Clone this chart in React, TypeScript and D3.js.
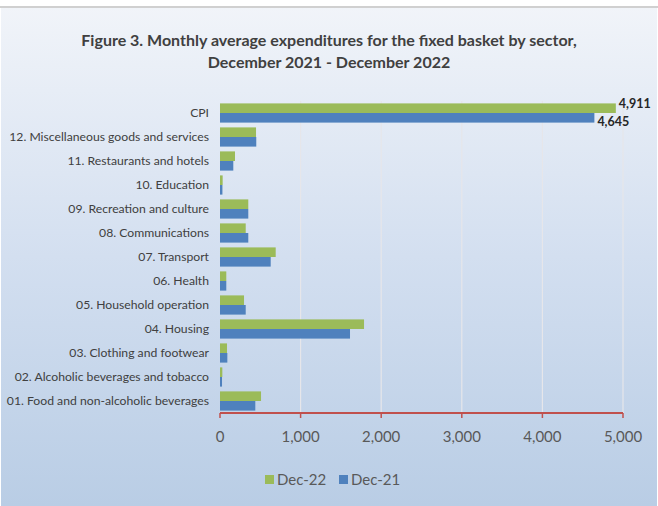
import React from "react";
import * as d3 from "d3";

const categories = [
  "CPI",
  "12. Miscellaneous goods and services",
  "11. Restaurants and hotels",
  "10. Education",
  "09. Recreation and culture",
  "08. Communications",
  "07. Transport",
  "06. Health",
  "05. Household operation",
  "04. Housing",
  "03. Clothing and footwear",
  "02. Alcoholic beverages and tobacco",
  "01. Food and non-alcoholic beverages",
];
const dec22 = [4911, 447, 186, 33, 351, 319, 691, 78, 298, 1787, 87, 29, 509];
const dec21 = [4645, 450, 165, 30, 351, 351, 629, 78, 319, 1613, 91, 25, 438];
const seriesNames = ["Dec-22", "Dec-21"];
const seriesColors = ["#9bbb59", "#4f81bd"];
const xTicks = [0, 1000, 2000, 3000, 4000, 5000];
const titleLines = [
  "Figure 3. Monthly average expenditures for the fixed basket by sector,",
  "December 2021 - December 2022",
];

const W = 658;
const H = 506;
const FONT = "Lato, 'Open Sans', sans-serif";

export default function App() {
  const x = d3.scaleLinear().domain([0, 5000]).range([220, 623]);
  const y = d3.scaleBand().domain(categories).range([101, 413]).paddingInner(0.2).paddingOuter(0.1);
  const inner = d3.scaleBand().domain(seriesNames).range([0, y.bandwidth()]);
  const fmt = d3.format(",");
  const series = [dec22, dec21];

  return (
    <svg width={W} height={H} style={{ position: "absolute", left: 0, top: 0 }} fontFamily={FONT}>
      <defs>
        <linearGradient id="bg" x1="0" y1="0" x2="0" y2="1">
          <stop offset="0" stopColor="#f1f4f9" />
          <stop offset="0.5" stopColor="#d3dff0" />
          <stop offset="1" stopColor="#b9cde5" />
        </linearGradient>
      </defs>
      <rect x={0} y={0} width={W} height={H} fill="#ffffff" />
      <rect x={1} y={7} width={W - 2} height={H - 7} fill="url(#bg)" />
      <line x1={0} x2={W} y1={7} y2={7} stroke="#d0d0d0" strokeWidth={2} />
      {titleLines.map((t, i) => (
        <text key={i} x={329} y={46 + i * 22} textAnchor="middle" fontSize={16} fontWeight="bold" fill="#404040">
          {t}
        </text>
      ))}
      {xTicks.slice(1).map((t) => (
        <line key={t} x1={x(t)} x2={x(t)} y1={101} y2={413} stroke="#e6e6ea" strokeWidth={1.2} />
      ))}
      {categories.map((c, i) => (
        <g key={c}>
          {series.map((s, j) => (
            <rect
              key={j}
              x={x(0)}
              y={(y(c) as number) + (inner(seriesNames[j]) as number)}
              width={x(s[i]) - x(0)}
              height={inner.bandwidth()}
              fill={seriesColors[j]}
            />
          ))}
          <text x={209} y={(y(c) as number) + y.bandwidth() / 2 + 4} textAnchor="end" fontSize={12.2} fill="#404040">
            {c}
          </text>
        </g>
      ))}
      <text x={x(dec22[0]) + 3} y={(y(categories[0]) as number) + 5} fontSize={12.5} fontWeight="bold" fill="#262626">
        {fmt(dec22[0])}
      </text>
      <text x={x(dec21[0]) + 3} y={(y(categories[0]) as number) + y.bandwidth() + 3} fontSize={12.5} fontWeight="bold" fill="#262626">
        {fmt(dec21[0])}
      </text>
      <line x1={x(0)} x2={x(5000)} y1={413} y2={413} stroke="#c0504d" strokeWidth={2} />
      {xTicks.map((t) => (
        <g key={t}>
          <line x1={x(t)} x2={x(t)} y1={413} y2={418} stroke="#c0504d" strokeWidth={1.5} />
          <text x={x(t)} y={442} textAnchor="middle" fontSize={15} fill="#595959">
            {fmt(t)}
          </text>
        </g>
      ))}
      {seriesNames.map((n, i) => (
        <g key={n} transform={`translate(${265 + i * 74},475)`}>
          <rect x={0} y={0} width={9} height={9} fill={seriesColors[i]} />
          <text x={12} y={10} fontSize={15} fill="#595959">
            {n}
          </text>
        </g>
      ))}
    </svg>
  );
}
